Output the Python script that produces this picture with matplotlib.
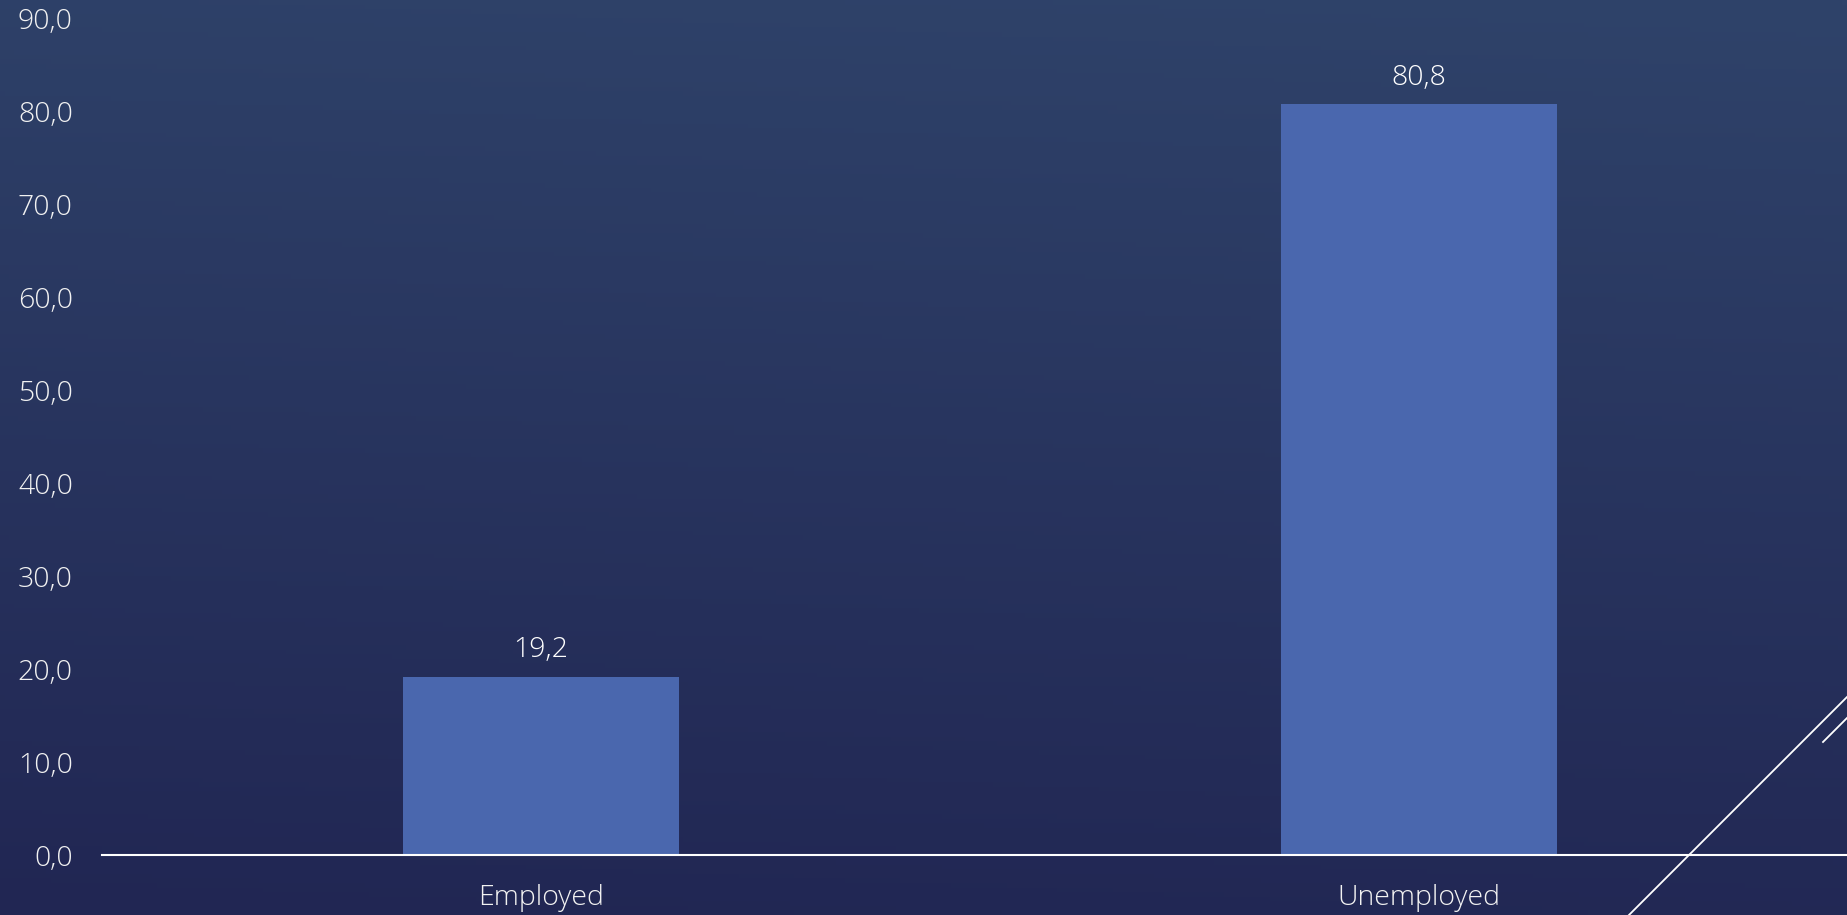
import matplotlib
matplotlib.use("Agg")
import matplotlib.pyplot as plt
import numpy as np
from matplotlib.lines import Line2D

categories = ["Employed", "Unemployed"]
values = [19.2, 80.8]
yticks = [0, 10, 20, 30, 40, 50, 60, 70, 80, 90]

W, H = 1847, 915
fig = plt.figure(figsize=(W / 100, H / 100), dpi=100)

# background gradient
bg = fig.add_axes([0, 0, 1, 1])
ny, nx = 200, 400
yy, xx = np.mgrid[0:1:ny * 1j, 0:1:nx * 1j]
t = np.clip(yy * 0.92 - xx * 0.08 + 0.08, 0, 1)  # 0 at top, 1 at bottom
top = np.array([47, 67, 106]) / 255
bot = np.array([33, 38, 83]) / 255
img = top[None, None, :] * (1 - t[..., None]) + bot[None, None, :] * t[..., None]
bg.imshow(img, aspect="auto", extent=[0, 1, 0, 1], origin="upper")
bg.set_axis_off()

font = "Open Sans"
fs = 20.5
wt = 300
x0 = 102 / W
x1 = 1858 / W
y0 = (H - 855) / H
y1 = (H - 19) / H
ax = fig.add_axes([x0, y0, x1 - x0, y1 - y0])
ax.set_facecolor("none")

xpos = np.arange(len(categories))
ax.bar(xpos, values, width=0.314, color="#4A67AE", zorder=2)
ax.set_xlim(-0.5, 1.5)
ax.set_ylim(0, 90)

for xi, v in zip(xpos, values):
    ax.annotate(f"{v:.1f}".replace(".", ","), xy=(xi, v), xytext=(0, 19),
                textcoords="offset points", ha="center", va="center",
                color="white", fontsize=fs, family=font, fontweight=wt)

ax.set_yticks(yticks)
ax.set_yticklabels([f"{v:.1f}".replace(".", ",") for v in yticks])
ax.set_xticks(xpos)
ax.set_xticklabels(categories)
ax.tick_params(axis="y", length=0, pad=21, colors="#F2F2F2", labelsize=fs)
ax.tick_params(axis="x", length=0, pad=21, colors="#F2F2F2", labelsize=fs)
for lab in ax.get_xticklabels() + ax.get_yticklabels():
    lab.set_family(font)
    lab.set_fontweight(wt)
for s in ["top", "right", "left"]:
    ax.spines[s].set_visible(False)
ax.spines["bottom"].set_color("white")
ax.spines["bottom"].set_linewidth(1.5)
ax.spines["bottom"].set_zorder(3)

# decorative diagonal lines
fig.add_artist(Line2D([1629 / W, 1847 / W], [0, (H - 697) / H],
                      color="white", lw=1.3, transform=fig.transFigure))
fig.add_artist(Line2D([1823 / W, 1847 / W], [(H - 742) / H, (H - 718) / H],
                      color="white", lw=1.3, transform=fig.transFigure))

fig.savefig("out.png", dpi=100)
